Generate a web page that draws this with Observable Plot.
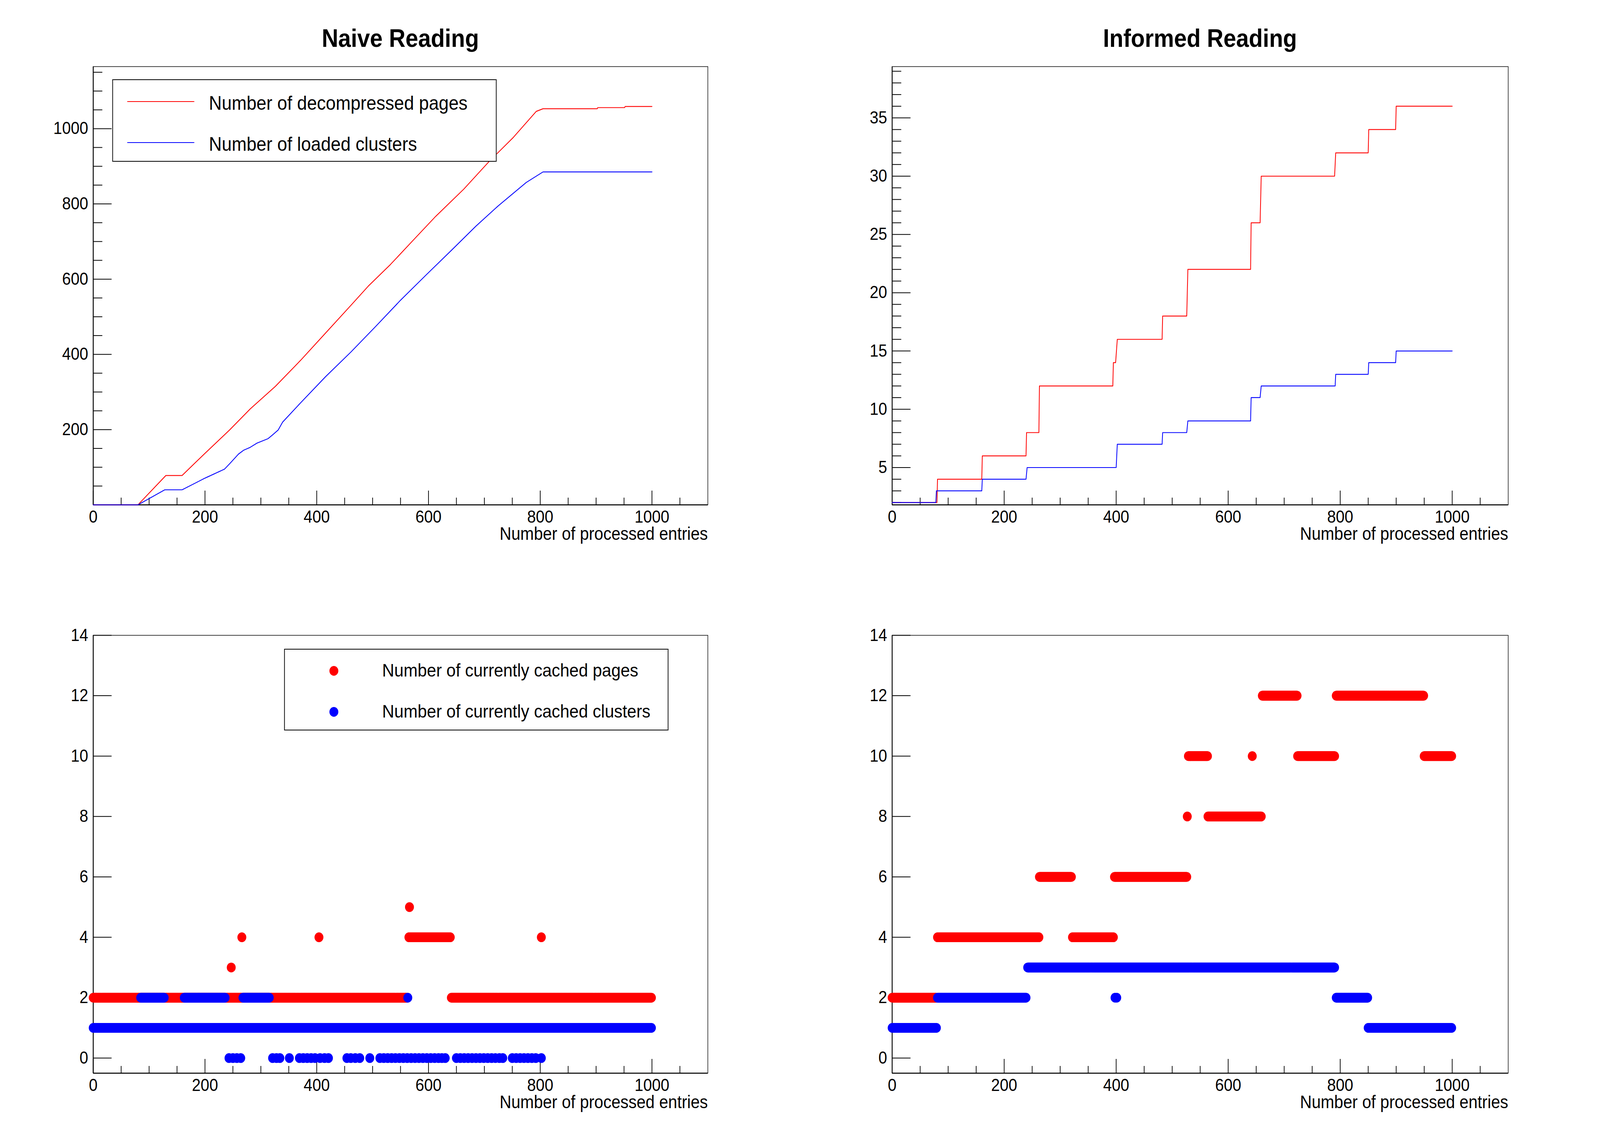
<!DOCTYPE html>
<html>
<head>
<meta charset="utf-8">
<script src="https://cdn.jsdelivr.net/npm/d3@7"></script>
<script src="https://cdn.jsdelivr.net/npm/@observablehq/plot@0.6"></script>
<style>
html, body { margin: 0; padding: 0; background: #fff; overflow: hidden; }
#wrap { position: relative; overflow: hidden; background: #fff; width: 4488px; height: 2916px; }
#root { position: absolute; left: 0; top: 0; width: 4488px; height: 2916px; background: #fff; overflow: hidden;
        transform-origin: 0 0;
        font-family: "Liberation Sans", Arial, Helvetica, sans-serif; color: #000; }
.panel { position: absolute; width: 2244px; height: 1458px; }
.panel svg { position: absolute; left: 0; top: 0; max-width: none !important; }
.title { position: absolute; font-weight: bold; font-size: 64px; line-height: 64px; text-align: center; white-space: nowrap; }
.legend { position: absolute; border: 2px solid #000; box-sizing: border-box; background: #fff; }
.legend .sw-line { position: absolute; height: 0; }
.legend .sw-dot { position: absolute; width: 25px; height: 25px; border-radius: 50%; }
.legend .lab { position: absolute; white-space: nowrap; }
</style>
</head>
<body>
<div id="wrap"><div id="root"></div></div>
<script>
// ---------------- data ----------------
const xMajorTicks = [0, 200, 400, 600, 800, 1000];
const xMinorTicks = [50, 100, 150, 250, 300, 350, 450, 500, 550, 650, 700, 750, 850, 900, 950, 1050];

// Naive reading: cumulative counts
const naivePageEntries = [0, 80, 130, 159, 200, 244, 281, 326, 371, 416, 461, 492, 532, 573, 613, 663, 708, 752, 793, 805, 902, 903, 951, 952, 1000];
const naivePages       = [0, 0, 78, 78, 137, 199, 255, 315, 384, 457, 530, 581, 639, 704, 767, 839, 912, 977, 1046, 1053, 1053, 1056, 1056, 1059, 1059];
const naiveClusterEntries = [0, 80, 128, 159, 200, 235, 244, 260, 269, 281, 293, 303, 313, 321, 331, 339, 371, 416, 461, 506, 550, 595, 640, 685, 725, 775, 805, 1000];
const naiveClusters       = [0, 0, 40, 40, 71, 95, 109, 135, 145, 153, 164, 170, 176, 186, 199, 220, 271, 341, 406, 475, 544, 610, 675, 741, 795, 857, 885, 885];
const naiveYMajor = [200, 400, 600, 800, 1000];
const naiveYMinor = [50, 100, 150, 250, 300, 350, 450, 500, 550, 650, 700, 750, 850, 900, 950, 1050, 1100, 1150];

// Informed reading: cumulative counts
const informedPageEntries = [0, 80, 81, 160, 161, 239, 240, 262, 263, 394, 395, 399, 402, 482, 483, 526, 528, 640, 641, 657, 659, 790, 792, 850, 851, 899, 900, 1000];
const informedPages       = [2, 2, 4, 4, 6, 6, 8, 8, 12, 12, 14, 14, 16, 16, 18, 18, 22, 22, 26, 26, 30, 30, 32, 32, 34, 34, 36, 36];
const informedClusterEntries = [0, 78, 79, 160, 161, 239, 241, 400, 402, 482, 483, 526, 528, 640, 641, 657, 659, 791, 792, 850, 851, 899, 900, 1000];
const informedClusters       = [2, 2, 3, 3, 4, 4, 5, 5, 7, 7, 8, 8, 9, 9, 11, 11, 12, 12, 13, 13, 14, 14, 15, 15];
const informedYMajor = [5, 10, 15, 20, 25, 30, 35];
const informedYMinor = [2, 3, 4, 6, 7, 8, 9, 11, 12, 13, 14, 16, 17, 18, 19, 21, 22, 23, 24, 26, 27, 28, 29, 31, 32, 33, 34, 36, 37, 38, 39];

// Currently cached: runs [firstEntry, lastEntry, value] and single points [entry, value]
const cachedYMajor = [0, 2, 4, 6, 8, 10, 12, 14];
const naiveCachedPageRuns = [[0, 562, 2], [565, 639, 4], [641, 999, 2]];
const naiveCachedPageSingles = [[247, 3], [266, 4], [404, 4], [566, 5], [802, 4]];
const naiveCachedClusterRuns = [[0, 999, 1], [85, 127, 2], [163, 236, 2], [268, 315, 2]];
const naiveCachedClusterSingles = [[563, 2]];
const naiveCachedClusterZeroEntries = [243, 250, 257, 264, 321, 328, 334, 351, 369, 376, 383, 390, 397, 406, 414, 421,
  454, 461, 469, 477, 495, 513, 520, 527, 534, 541, 548, 555, 562, 569, 576, 583, 590, 597, 604, 611, 618, 624, 630,
  650, 657, 664, 671, 678, 685, 692, 699, 706, 713, 720, 727, 733, 750, 757, 764, 771, 778, 785, 792, 802];

const informedCachedPageRuns = [[0, 79, 2], [81, 262, 4], [263, 320, 6], [322, 395, 4], [397, 526, 6], [529, 563, 10],
  [564, 659, 8], [661, 723, 12], [724, 790, 10], [793, 949, 12], [950, 999, 10]];
const informedCachedPageSingles = [[527, 8], [643, 10]];
const informedCachedClusterRuns = [[0, 79, 1], [81, 239, 2], [242, 790, 3], [793, 849, 2], [850, 999, 1]];
const informedCachedClusterSingles = [[398, 2], [401, 2]];

// ---------------- helpers ----------------
const RED = "#ff0000", BLUE = "#0000ff";
const FONT = "Liberation Sans, Arial, Helvetica, sans-serif";
const pts = (xs, ys) => xs.map((x, i) => ({x, y: ys[i]}));
const expandRuns = (runs) => runs.flatMap(([a, b, v]) => d3.range(a, b + 1).map(x => ({x, y: v})));
const singles = (s) => s.map(([x, y]) => ({x, y}));
const plain = (d) => String(d);

// The 4488x2916 design is mapped onto whatever viewport the page gets.
const wrap = document.getElementById("wrap");
const root = document.getElementById("root");
function fit() {
  const sx = window.innerWidth / 4488, sy = window.innerHeight / 2916;
  root.style.transform = `scale(${sx}, ${sy})`;
  wrap.style.width = window.innerWidth + "px";
  wrap.style.height = window.innerHeight + "px";
}
fit();
window.addEventListener("resize", fit);

function makePanel({left, top, mL, mR, mT, mB, yDomain, yMajor, yMinor, dataMarks}) {
  const div = document.createElement("div");
  div.className = "panel";
  div.style.left = left + "px";
  div.style.top = top + "px";
  const marks = [
    Plot.frame({stroke: "black", strokeWidth: 1.5}),
    Plot.ruleY([yDomain[0]], {stroke: "black", strokeWidth: 2.5}),
    Plot.ruleX([0], {stroke: "black", strokeWidth: 2.5}),
    Plot.axisX({ticks: xMajorTicks, anchor: "bottom", tickSize: -36, tickPadding: 50, strokeWidth: 2, label: null, fontSize: 44, tickFormat: plain}),
    Plot.axisX({ticks: xMinorTicks, anchor: "bottom", tickSize: -18, tickFormat: () => "", strokeWidth: 2, label: null}),
    Plot.axisY({ticks: yMajor, anchor: "left", tickSize: -52, tickPadding: 66, strokeWidth: 2, label: null, fontSize: 44, tickFormat: plain}),
    yMinor.length ? Plot.axisY({ticks: yMinor, anchor: "left", tickSize: -26, tickFormat: () => "", strokeWidth: 2, label: null}) : null,
    Plot.text(["Number of processed entries"], {text: d => d, frameAnchor: "bottom-right", dy: 89, lineAnchor: "bottom", textAnchor: "end", fontSize: 45.5}),
    ...dataMarks
  ].filter(Boolean);
  const svg = Plot.plot({
    width: 2244, height: 1458,
    marginLeft: mL, marginRight: mR, marginTop: mT, marginBottom: mB,
    x: {domain: [0, 1100], label: null},
    y: {domain: yDomain, label: null},
    style: {fontFamily: FONT, fontSize: "44px", background: "transparent", color: "black", overflow: "visible"},
    marks
  });
  div.appendChild(svg);
  root.appendChild(div);
  return div;
}

function addTitle(text, left, width) {
  const t = document.createElement("div");
  t.className = "title";
  t.textContent = text;
  t.style.left = left + "px";
  t.style.width = width + "px";
  t.style.top = "66px";
  root.appendChild(t);
}

function addLegend({left, top, width, height, fontSize, textLeft, rows}) {
  const box = document.createElement("div");
  box.className = "legend";
  Object.assign(box.style, {left: left + "px", top: top + "px", width: width + "px", height: height + "px"});
  for (const r of rows) {
    if (r.kind === "line") {
      const s = document.createElement("div");
      s.className = "sw-line";
      Object.assign(s.style, {left: "40px", width: "188px", top: (r.cy - 1) + "px", borderTop: `2px solid ${r.color}`});
      box.appendChild(s);
    } else {
      const s = document.createElement("div");
      s.className = "sw-dot";
      Object.assign(s.style, {left: (137 - 12.5) + "px", top: (r.cy - 12.5) + "px", background: r.color});
      box.appendChild(s);
    }
    const l = document.createElement("div");
    l.className = "lab";
    l.textContent = r.label;
    Object.assign(l.style, {left: textLeft + "px", top: (r.baseline - 0.847 * fontSize) + "px",
      fontSize: fontSize + "px", lineHeight: fontSize + "px"});
    box.appendChild(l);
  }
  root.appendChild(box);
}

// ---------------- panels ----------------
makePanel({
  left: 0, top: 0, mL: 261, mR: 259, mT: 170, mB: 166,
  yDomain: [0, 1165], yMajor: naiveYMajor, yMinor: naiveYMinor,
  dataMarks: [
    Plot.line(pts(naivePageEntries, naivePages), {x: "x", y: "y", stroke: RED, strokeWidth: 2.2}),
    Plot.line(pts(naiveClusterEntries, naiveClusters), {x: "x", y: "y", stroke: BLUE, strokeWidth: 2.2})
  ]
});
addTitle("Naive Reading", 261, 1724);

makePanel({
  left: 2244, top: 0, mL: 258, mR: 258, mT: 170, mB: 166,
  yDomain: [1.8, 39.4], yMajor: informedYMajor, yMinor: informedYMinor,
  dataMarks: [
    Plot.line(pts(informedPageEntries, informedPages), {x: "x", y: "y", stroke: RED, strokeWidth: 2.2}),
    Plot.line(pts(informedClusterEntries, informedClusters), {x: "x", y: "y", stroke: BLUE, strokeWidth: 2.2})
  ]
});
addTitle("Informed Reading", 2244 + 258, 1728);

makePanel({
  left: 0, top: 1458, mL: 261, mR: 259, mT: 168, mB: 169,
  yDomain: [-0.5, 14], yMajor: cachedYMajor, yMinor: [],
  dataMarks: [
    Plot.dot([...expandRuns(naiveCachedPageRuns), ...singles(naiveCachedPageSingles)], {x: "x", y: "y", r: 12.5, fill: RED}),
    Plot.dot([...expandRuns(naiveCachedClusterRuns), ...singles(naiveCachedClusterSingles),
              ...naiveCachedClusterZeroEntries.map(x => ({x, y: 0}))], {x: "x", y: "y", r: 12.5, fill: BLUE})
  ]
});

makePanel({
  left: 2244, top: 1458, mL: 258, mR: 258, mT: 168, mB: 169,
  yDomain: [-0.5, 14], yMajor: cachedYMajor, yMinor: [],
  dataMarks: [
    Plot.dot([...expandRuns(informedCachedPageRuns), ...singles(informedCachedPageSingles)], {x: "x", y: "y", r: 12.5, fill: RED}),
    Plot.dot([...expandRuns(informedCachedClusterRuns), ...singles(informedCachedClusterSingles)], {x: "x", y: "y", r: 12.5, fill: BLUE})
  ]
});

addLegend({
  left: 315, top: 203, width: 1078, height: 211, fontSize: 50, textLeft: 269,
  rows: [
    {kind: "line", color: RED, cy: 55, baseline: 76, label: "Number of decompressed pages"},
    {kind: "line", color: BLUE, cy: 160, baseline: 181, label: "Number of loaded clusters"}
  ]
});
addLegend({
  left: 797, top: 1661, width: 1078, height: 209, fontSize: 47, textLeft: 273,
  rows: [
    {kind: "dot", color: RED, cy: 54, baseline: 69, label: "Number of currently cached pages"},
    {kind: "dot", color: BLUE, cy: 159, baseline: 174, label: "Number of currently cached clusters"}
  ]
});
</script>
</body>
</html>
